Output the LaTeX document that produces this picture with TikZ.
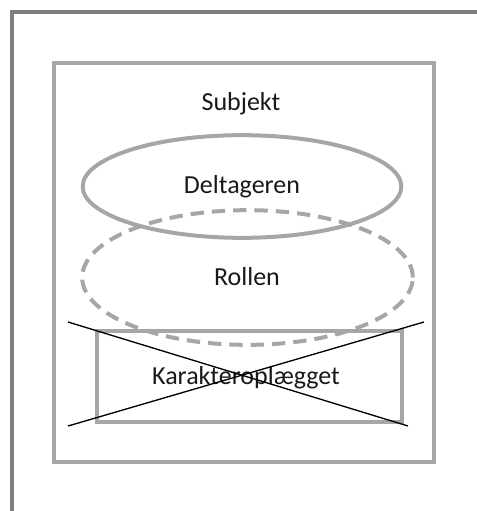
\documentclass[tikz,border=0pt]{standalone}
\usepackage{fontspec}
\setmainfont{Carlito}
\usetikzlibrary{shapes.geometric}
\definecolor{framegray}{HTML}{7F7F7F}
\definecolor{boxgray}{HTML}{A6A6A6}

\begin{document}
\begin{tikzpicture}
    [x=0.75pt, y=-0.75pt, font=\fontsize{19.5}{23}\selectfont,
     box/.style={rectangle, draw=boxgray, line width=3pt, inner sep=0pt},
     oval/.style={ellipse, draw=boxgray, line width=3pt, inner sep=0pt},
     lbl/.style={text=black!90, inner sep=0pt},
     cross/.style={draw=black, line width=1pt}]
    \useasboundingbox (0,0) rectangle (477,511);
    \begin{scope}
    \clip (0,0) rectangle (477,511);
    \coordinate (fbot) at (12,530);
    \coordinate (fcorner) at (12,12);
    \coordinate (fright) at (500,12);
    \draw[framegray, line width=3pt] (fbot) -- (fcorner) -- (fright);
    \end{scope}
    \node[box, minimum width=285pt, minimum height=299pt] (subj) at (244,262.5) {};
    \node[lbl] (subjlbl) at (241,104) {Subjekt};
    \node[oval, minimum width=239pt, minimum height=77pt] (delt) at (242,186.5) {};
    \node[lbl] (deltlbl) at (242,187) {Deltageren};
    \node[oval, dash pattern=on 10pt off 6pt, minimum width=248pt, minimum height=101pt] (rolle) at (247.5,277.5) {};
    \node[lbl] (rollelbl) at (247,277) {Rollen};
    \node[box, minimum width=229pt, minimum height=68pt] (kar) at (249.5,376.5) {};
    \node[lbl] (karlbl) at (246,378) {Karakteroplægget};
    \coordinate (x1) at (68,322);
    \coordinate (x2) at (408,426);
    \coordinate (x3) at (68,426);
    \coordinate (x4) at (424,322);
    \draw[cross] (x1) -- (x2);
    \draw[cross] (x3) -- (x4);
\end{tikzpicture}
\end{document}
